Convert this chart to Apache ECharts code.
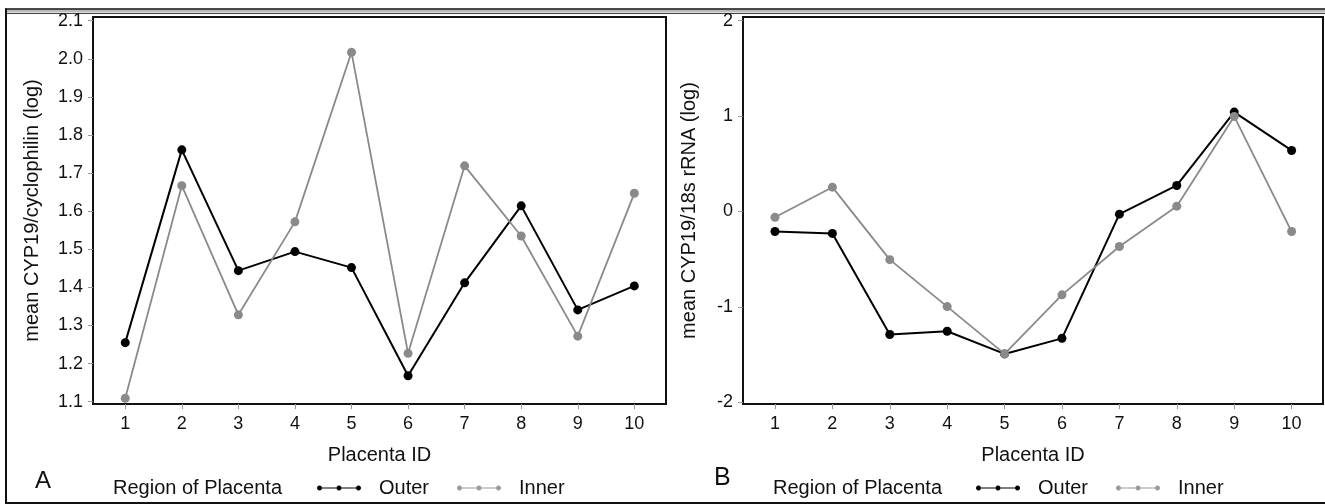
<!DOCTYPE html>
<html>
<head>
<meta charset="utf-8">
<style>
html,body{margin:0;padding:0;background:#fff;}
#chart{width:1325px;height:504px;}
</style>
<script src="https://cdn.jsdelivr.net/npm/echarts@6/dist/echarts.min.js"></script>
</head>
<body>
<div id="chart"></div>
<script>
// ---- data ----
const placentaIds = [1, 2, 3, 4, 5, 6, 7, 8, 9, 10];
const outerA = [1.255, 1.761, 1.444, 1.494, 1.452, 1.168, 1.412, 1.614, 1.341, 1.404];
const innerA = [1.109, 1.667, 1.328, 1.572, 2.017, 1.227, 1.719, 1.535, 1.272, 1.647];
const outerB = [-0.21, -0.23, -1.29, -1.255, -1.493, -1.33, -0.028, 0.273, 1.042, 0.640];
const innerB = [-0.06, 0.255, -0.505, -0.997, -1.493, -0.874, -0.367, 0.056, 0.997, -0.210];
const yTicksA = [1.1, 1.2, 1.3, 1.4, 1.5, 1.6, 1.7, 1.8, 1.9, 2.0, 2.1];
const yTicksB = [-2, -1, 0, 1, 2];
const seriesNames = ['Outer', 'Inner'];
const legendTitle = 'Region of Placenta';
const xName = 'Placenta ID';
const yNameA = 'mean CYP19/cyclophilin (log)';
const yNameB = 'mean CYP19/18s rRNA (log)';

const FONT = "'Liberation Sans', Arial, sans-serif";
const BLACK = '#000';
const GRAY = '#8a8a8a';

const pairs = (ys) => placentaIds.map((id, i) => [id, ys[i]]);

// legend icon: thin line with three dots (polygon-approximated circles)
function dot(cx, cy, r) {
  let d = '';
  for (let k = 0; k < 12; k++) {
    const a = k / 12 * Math.PI * 2;
    d += (k === 0 ? 'M' : 'L') + (cx + r * Math.cos(a)).toFixed(2) + ' ' + (cy + r * Math.sin(a)).toFixed(2);
  }
  return d + 'Z';
}
const legendIcon = 'path://M0 2.5L44 2.5L44 3.5L0 3.5Z' + dot(2.5, 3, 2.5) + dot(22, 3, 2.5) + dot(41.5, 3, 2.5);

function xAxisDef(gridIndex, min, max) {
  return {
    type: 'value', gridIndex, min, max,
    name: xName, nameLocation: 'middle', nameGap: 41,
    nameTextStyle: {fontFamily: FONT, fontSize: 20, color: '#111'},
    axisLine: {show: false, onZero: false},
    splitLine: {show: false},
    axisTick: {show: true, length: 5, lineStyle: {color: '#999', width: 1}, customValues: placentaIds},
    axisLabel: {show: true, margin: 11, fontFamily: FONT, fontSize: 18, color: '#111', customValues: placentaIds}
  };
}
function yAxisDef(gridIndex, min, max, ticks, name, nameGap, fmt) {
  return {
    type: 'value', gridIndex, min, max,
    name, nameLocation: 'middle', nameGap,
    nameTextStyle: {fontFamily: FONT, fontSize: 20, color: '#111'},
    axisLine: {show: false, onZero: false},
    splitLine: {show: false},
    axisTick: {show: true, length: 5, lineStyle: {color: '#999', width: 1}, customValues: ticks},
    axisLabel: {show: true, margin: 10, fontFamily: FONT, fontSize: 18, color: '#111', customValues: ticks, formatter: fmt}
  };
}
function lineSeries(name, data, xi, yi, color, width) {
  return {
    name, type: 'line', xAxisIndex: xi, yAxisIndex: yi, data,
    symbol: 'circle', symbolSize: 9, showSymbol: true,
    lineStyle: {color, width}, itemStyle: {color},
    animation: false, emphasis: {disabled: true}
  };
}
function legendDef(left) {
  return {
    left, top: 473, orient: 'horizontal',
    itemWidth: 44, itemHeight: 6, itemGap: 28,
    icon: legendIcon, selectedMode: false,
    textStyle: {fontFamily: FONT, fontSize: 20, color: '#111', padding: [0, 0, 0, 13]},
    data: [
      {name: seriesNames[0], itemStyle: {color: BLACK, borderWidth: 0, borderColor: BLACK, opacity: 1}},
      {name: seriesNames[1], itemStyle: {color: '#9a9a9a', borderWidth: 0, borderColor: '#9a9a9a', opacity: 1}}
    ]
  };
}

const option = {
  backgroundColor: '#fff',
  animation: false,
  grid: [
    {left: 93, top: 17, width: 573, height: 387, show: true, borderColor: '#111', borderWidth: 2, backgroundColor: 'transparent'},
    {left: 743, top: 17, width: 580, height: 387, show: true, borderColor: '#111', borderWidth: 2, backgroundColor: 'transparent'}
  ],
  xAxis: [xAxisDef(0, 0.43, 10.56), xAxisDef(1, 0.443, 10.547)],
  yAxis: [
    yAxisDef(0, 1.094, 2.1097, yTicksA, yNameA, 51, v => Number(v).toFixed(1)),
    yAxisDef(1, -2.018, 2.039, yTicksB, yNameB, 44, v => String(Math.round(v)))
  ],
  legend: [legendDef(312), legendDef(971)],
  title: [
    {text: 'A', left: 30, top: 464, textStyle: {fontFamily: FONT, fontSize: 24, fontWeight: 'normal', color: '#111'}},
    {text: 'B', left: 709, top: 461, textStyle: {fontFamily: FONT, fontSize: 25, fontWeight: 'normal', color: '#111'}},
    {text: legendTitle, left: 108, top: 473, textStyle: {fontFamily: FONT, fontSize: 20, fontWeight: 'normal', color: '#111'}},
    {text: legendTitle, left: 768, top: 473, textStyle: {fontFamily: FONT, fontSize: 20, fontWeight: 'normal', color: '#111'}}
  ],
  series: [
    lineSeries(seriesNames[0], pairs(outerA), 0, 0, BLACK, 2),
    lineSeries(seriesNames[1], pairs(innerA), 0, 0, GRAY, 1.8),
    lineSeries(seriesNames[0], pairs(outerB), 1, 1, BLACK, 2),
    lineSeries(seriesNames[1], pairs(innerB), 1, 1, GRAY, 1.8)
  ],
  graphic: [
    {type: 'rect', shape: {x: 5, y: 9.5, width: 1320, height: 3}, style: {fill: '#bbb'}, silent: true},
    {type: 'line', shape: {x1: 5, y1: 9, x2: 1325, y2: 9}, style: {stroke: '#111', lineWidth: 1.5}, silent: true},
    {type: 'line', shape: {x1: 5, y1: 13.5, x2: 1325, y2: 13.5}, style: {stroke: '#444', lineWidth: 1.2}, silent: true},
    {type: 'line', shape: {x1: 6, y1: 8.5, x2: 6, y2: 504}, style: {stroke: '#111', lineWidth: 2}, silent: true},
    {type: 'line', shape: {x1: 5, y1: 503, x2: 1325, y2: 503}, style: {stroke: '#111', lineWidth: 2}, silent: true}
  ]
};

const chart = echarts.init(document.getElementById('chart'), null, {renderer: 'canvas'});
chart.setOption(option);
</script>
</body>
</html>
